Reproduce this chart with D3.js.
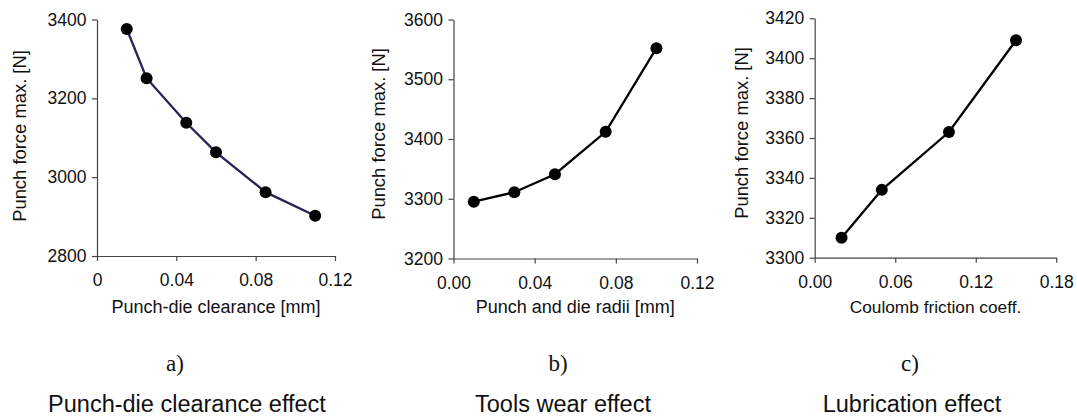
<!DOCTYPE html>
<html>
<head>
<meta charset="utf-8">
<script src="https://cdn.jsdelivr.net/npm/d3@7"></script>
<style>
  body { margin: 0; background: #fff; }
  text { font-family: "Liberation Sans", Arial, sans-serif; fill: #111; }
</style>
</head>
<body>
<svg id="chart" width="1077" height="418"></svg>
<script>
// a) punch-die clearance
var clearance = [0.015, 0.025, 0.045, 0.060, 0.085, 0.110];
var clearanceForce = [3376, 3251, 3138, 3063, 2962, 2902];
// b) punch and die radii
var radii = [0.01, 0.03, 0.05, 0.075, 0.10];
var radiiForce = [3295, 3311, 3341, 3412, 3552];
// c) coulomb friction
var friction = [0.02, 0.05, 0.10, 0.15];
var frictionForce = [3310, 3334, 3363, 3409];

var xTicksA = [0, 0.04, 0.08, 0.12], yTicksA = [2800, 3000, 3200, 3400];
var xTicksB = [0, 0.04, 0.08, 0.12], yTicksB = [3200, 3300, 3400, 3500, 3600];
var xTicksC = [0, 0.06, 0.12, 0.18], yTicksC = [3300, 3320, 3340, 3360, 3380, 3400, 3420];

var svg = d3.select('#chart');

var panels = [
  {x: clearance, y: clearanceForce, xt: xTicksA, yt: yTicksA, xfmt: function(d){ return d === 0 ? '0' : d3.format('.2f')(d); },
   left: 97, right: 335, top: 19.5, bottom: 256, color: '#25255a',
   xlabel: 'Punch-die clearance [mm]', xlfs: 18, ylabelX: 26, ylabelY: 136,
   tag: 'a)', tagX: 175, title: 'Punch-die clearance effect', titleX: 187},
  {x: radii, y: radiiForce, xt: xTicksB, yt: yTicksB, xfmt: d3.format('.2f'),
   left: 453.5, right: 697, top: 19.5, bottom: 258.5, color: '#000',
   xlabel: 'Punch and die radii [mm]', xlfs: 18, ylabelX: 385, ylabelY: 134,
   tag: 'b)', tagX: 558, title: 'Tools wear effect', titleX: 563},
  {x: friction, y: frictionForce, xt: xTicksC, yt: yTicksC, xfmt: d3.format('.2f'),
   left: 814.7, right: 1056.3, top: 18.3, bottom: 257.7, color: '#000',
   xlabel: 'Coulomb friction coeff.', xlfs: 17.3, ylabelX: 748, ylabelY: 133,
   tag: 'c)', tagX: 910, title: 'Lubrication effect', titleX: 912}
];

panels.forEach(function(p){
  var g = svg.append('g');
  var x = d3.scaleLinear().domain([p.xt[0], p.xt[p.xt.length-1]]).range([p.left, p.right]);
  var y = d3.scaleLinear().domain([p.yt[0], p.yt[p.yt.length-1]]).range([p.bottom, p.top]);

  var xAxis = d3.axisBottom(x).tickValues(p.xt).tickFormat(p.xfmt).tickSize(5).tickPadding(4).tickSizeOuter(0);
  var yAxis = d3.axisLeft(y).tickValues(p.yt).tickFormat(d3.format('d')).tickSize(5).tickPadding(5.5).tickSizeOuter(0);

  var gx = g.append('g').attr('transform', 'translate(0,' + p.bottom + ')').call(xAxis);
  var gy = g.append('g').attr('transform', 'translate(' + p.left + ',0)').call(yAxis);
  [gx, gy].forEach(function(a){
    a.attr('font-size', null).attr('font-family', null);
    a.select('.domain').attr('stroke', '#444').attr('stroke-width', 1.2);
    a.selectAll('.tick line').attr('stroke', '#444').attr('stroke-width', 1.2);
    a.selectAll('.tick text').style('font-size', '17.5px').style('fill', '#111');
  });
  gx.selectAll('.tick text').attr('dy', '1.22em');

  var line = d3.line().x(function(d){ return x(d[0]); }).y(function(d){ return y(d[1]); });
  var pts = d3.zip(p.x, p.y);
  g.append('path').datum(pts).attr('d', line)
    .attr('fill', 'none').attr('stroke', p.color).attr('stroke-width', 2.3);
  g.selectAll('circle').data(pts).enter().append('circle')
    .attr('cx', function(d){ return x(d[0]); })
    .attr('cy', function(d){ return y(d[1]); })
    .attr('r', 6).attr('fill', '#000');

  g.append('text').attr('x', (p.left + p.right) / 2).attr('y', 313)
    .attr('text-anchor', 'middle').style('font-size', p.xlfs + 'px')
    .text(p.xlabel);

  g.append('text').attr('transform', 'translate(' + p.ylabelX + ',' + p.ylabelY + ') rotate(-90)')
    .attr('text-anchor', 'middle').style('font-size', '18.4px')
    .text('Punch force max. [N]');

  g.append('text').attr('x', p.tagX).attr('y', 371).attr('text-anchor', 'middle')
    .style('font-family', '"Liberation Serif", "Times New Roman", serif').style('font-size', '23px')
    .text(p.tag);

  g.append('text').attr('x', p.titleX).attr('y', 412).attr('text-anchor', 'middle')
    .style('font-size', '23.5px').text(p.title);
});
</script>
</body>
</html>
